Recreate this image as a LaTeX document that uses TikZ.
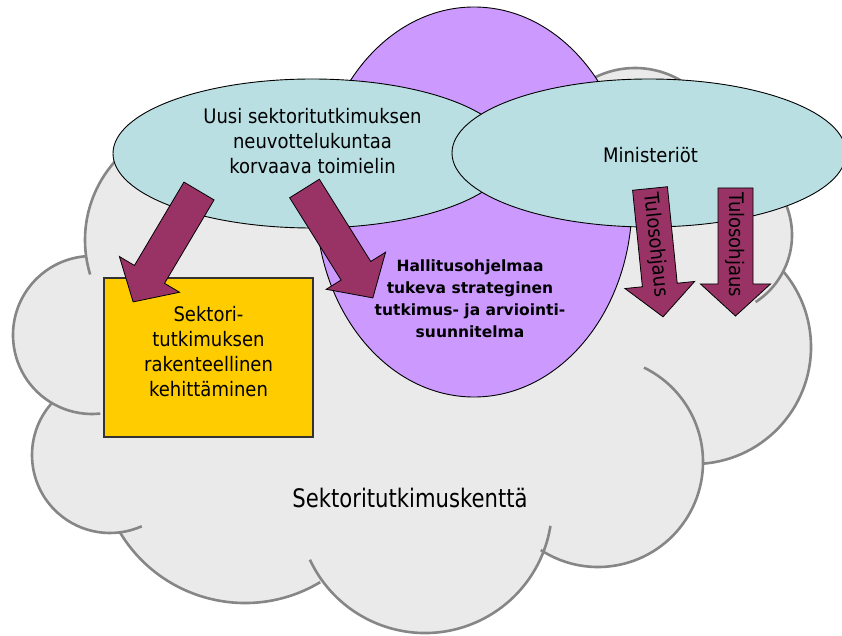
\documentclass[tikz,border=0pt]{standalone}
\usepackage{fontspec}
\usetikzlibrary{shapes.geometric}
\setmainfont{DejaVu Sans}
\newfontfamily\condfont[FakeStretch=0.9]{DejaVu Sans}
\newfontfamily\bigcondfont[FakeStretch=0.83]{DejaVu Sans}
\definecolor{cloudgray}{RGB}{234,234,234}
\definecolor{cloudedge}{RGB}{134,134,134}
\definecolor{tealfill}{RGB}{185,223,227}
\definecolor{lilac}{RGB}{204,153,255}
\definecolor{goldbox}{RGB}{255,204,0}
\definecolor{maroon}{RGB}{153,51,102}
\tikzset{
  cloudfill/.style={fill=cloudgray},
  cloudline/.style={draw=cloudedge, line width=2.6pt},
  ovalshape/.style={draw=black, line width=0.9pt},
  maroonarrow/.style={fill=maroon, draw=black, line width=0.8pt, line join=miter},
  condtext/.style={font=\condfont\fontsize{20}{25}\selectfont, align=center, inner sep=0pt},
  boldtext/.style={font=\bfseries\fontsize{15.5}{21.8}\selectfont, align=center, inner sep=0pt},
  bigtext/.style={font=\bigcondfont\fontsize{25.5}{30}\selectfont, inner sep=0pt}
}
\newcommand{\lobearc}[5]{\draw[cloudline] ([shift={(#4:#3)}]#1,#2) arc[start angle=#4, end angle=#5, radius=#3];}
\newcommand{\lobefill}[3]{\fill[cloudfill] (#1,#2) circle[radius=#3];}
\newcommand{\blockarrow}[3]{\draw[maroonarrow, shift={(#1)}, rotate=#2] (0,17.5) -- ({#3-32},17.5) -- ({#3-32},35) -- (#3,0) -- ({#3-32},-35) -- ({#3-32},-17.5) -- (0,-17.5) -- cycle;}
\begin{document}
\begin{tikzpicture}[x=1pt, y=1pt]
\useasboundingbox (0,0) rectangle (842,635);
\clip (0,0) rectangle (842,635);
% cloud fill
\fill[cloudfill] (203,395) -- (92,300) -- (110,180) -- (245,178) -- (425,129) -- (598,173) -- (694,288) -- (712,400) -- (635,477) -- (474,433) -- cycle;
\lobefill{203}{395}{118}
\lobefill{92}{300}{79}
\lobefill{110}{180}{78}
\lobefill{245}{178}{146}
\lobefill{425}{129}{127}
\lobefill{598}{173}{105}
\lobefill{694}{288}{117}
\lobefill{712}{400}{80}
\lobefill{635}{477}{90}
% cloud outline
\lobearc{203}{395}{118}{120}{197}
\lobearc{92}{300}{79}{95}{276}
\lobearc{110}{180}{78}{138}{294}
\lobearc{245}{178}{146}{211}{301}
\lobearc{425}{129}{127}{205}{351}
\lobearc{598}{173}{105}{237}{424}
\lobearc{694}{288}{117}{-86}{40}
\lobearc{712}{400}{80}{60}{-57}
\lobearc{635}{477}{90}{130}{55}
% ovals
\node[ovalshape, fill=lilac, ellipse, minimum width=316pt, minimum height=390pt, inner sep=0pt] (plan) at (474,433) {};
\node[ovalshape, fill=tealfill, ellipse, minimum width=398pt, minimum height=149pt, inner sep=0pt] (toimielin) at (312,481.5) {};
\node[ovalshape, fill=tealfill, ellipse, minimum width=394pt, minimum height=148pt, inner sep=0pt] (ministeriot) at (649,482) {};
% yellow box
\node[draw=black!80, line width=1.2pt, fill=goldbox, minimum width=209pt, minimum height=159pt, inner sep=0pt] (kehitys) at (208.5,277.5) {};
% arrows
\coordinate (a1) at (199,444);
\coordinate (a2) at (304.5,446.5);
\coordinate (a3) at (650,446.5);
\coordinate (a4) at (735.5,447);
\blockarrow{a1}{239.3}{129}
\blockarrow{a2}{302}{129}
\blockarrow{a3}{-84.2}{129}
\blockarrow{a4}{-90}{128}
% texts
\node[condtext] (uusi) at (312.5,493.6) {Uusi sektoritutkimuksen\\neuvottelukuntaa\\korvaava toimielin};
\node[condtext, anchor=base] (min) at (650.5,472.3) {Ministeriöt};
\node[condtext] (sekt) at (208.5,283.4) {Sektori-\\tutkimuksen\\rakenteellinen\\kehittäminen};
\node[boldtext] (hall) at (470,336.2) {Hallitusohjelmaa\\tukeva strateginen\\tutkimus- ja arviointi-\\suunnitelma};
\node[bigtext, anchor=base] (kentta) at (410,127.7) {Sektoritutkimuskenttä};
\node[condtext, rotate=-84.2] (tulos1) at (655.7,390) {Tulosohjaus};
\node[condtext, rotate=-90] (tulos2) at (735.5,390) {Tulosohjaus};
\end{tikzpicture}
\end{document}
